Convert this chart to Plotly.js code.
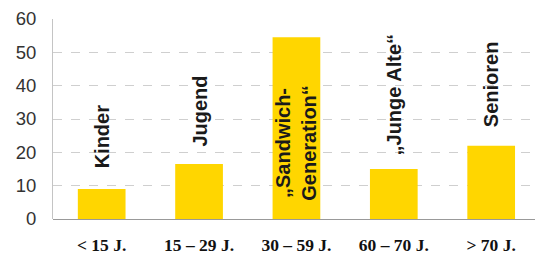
<!DOCTYPE html>
<html><head><meta charset="utf-8">
<script src="https://cdn.plot.ly/plotly-3.0.1.min.js"></script>
<style>html,body{margin:0;padding:0;background:#fff;}#c{width:537px;height:255px;}</style>
</head><body><div id="c"></div>
<script>
const categories = ["< 15 J.", "15 – 29 J.", "30 – 59 J.", "60 – 70 J.", "> 70 J."];
const values = [9, 16.5, 54.5, 15, 22];
const groupLabels = ["Kinder", "Jugend", "„Sandwich-<br>Generation“", "„Junge Alte“", "Senioren"];
const labelY = [14.5, 21.0, 23, 18.4, 27.0];
const yTicks = [0, 10, 20, 30, 40, 50, 60];

const idx = categories.map((_, i) => i);
const trace = {
  type: 'bar', x: idx, y: values,
  marker: {color: '#FFD600'}, width: 0.49, hoverinfo: 'none'
};
const annotations = groupLabels.map((t, i) => ({
  x: i, y: labelY[i], xref: 'x', yref: 'y', text: '<b>' + t + '</b>', showarrow: false,
  textangle: -90, xanchor: 'center', yanchor: i === 2 ? 'middle' : 'bottom',
  font: {family: 'Liberation Sans, Arial, sans-serif', size: 20, color: '#1a1a1a'},
}));

const layout = {
  width: 537, height: 255,
  margin: {l: 53, r: 2, t: 19, b: 36},
  paper_bgcolor: '#fff', plot_bgcolor: '#fff',
  showlegend: false,
  xaxis: {
    range: [-0.5, 4.45], tickvals: idx, ticktext: categories.map(c => '<b>' + c + '</b>'),
    tickfont: {family: 'Liberation Serif, Times New Roman, serif', size: 17.5, color: '#111'},
    showgrid: false, zeroline: false, showline: false,
    ticks: '', ticklabelstandoff: 13, fixedrange: true
  },
  yaxis: {
    range: [0, 60], tickvals: yTicks,
    tickfont: {family: 'Liberation Sans, Arial, sans-serif', size: 18.5, color: '#333'},
    showgrid: true, gridcolor: '#cfcfcf', griddash: 'dash', gridwidth: 1,
    zeroline: true, zerolinecolor: '#999', zerolinewidth: 1,
    showline: true, linecolor: '#c4c4c4', linewidth: 1,
    ticks: '', ticklabelstandoff: 12, fixedrange: true
  },
  annotations: annotations,
  font: {family: 'Liberation Sans, Arial, sans-serif'}
};
Plotly.newPlot('c', [trace], layout, {displayModeBar: false, staticPlot: true});
</script></body></html>
